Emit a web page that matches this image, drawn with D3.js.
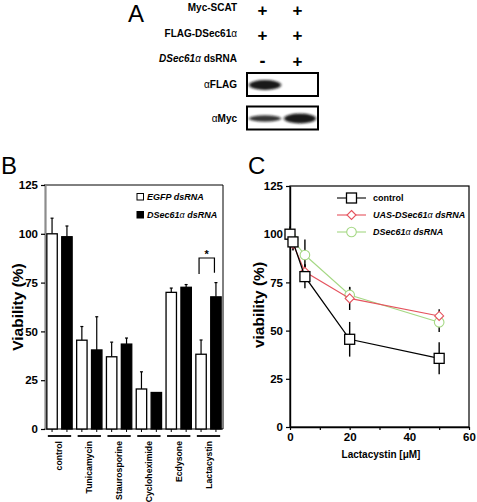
<!DOCTYPE html>
<html><head><meta charset="utf-8">
<script src="https://cdn.jsdelivr.net/npm/d3@7"></script>
<style>
body{margin:0;background:#fff}
svg{display:block}
text{font-family:"Liberation Sans",Arial,Helvetica,sans-serif}
</style>
</head><body>
<svg id="fig" width="477" height="502"></svg>
<script>
// ---------- Panel A data ----------
const aLabels = ["Myc-SCAT", "FLAG-DSec61α", "DSec61α dsRNA"];
const aLane1 = ["+", "+", "-"];
const aLane2 = ["+", "+", "+"];
const blotLabels = ["αFLAG", "αMyc"];
const blotLane1 = [1.0, 0.7];   // relative band intensity
const blotLane2 = [0.0, 1.0];

// ---------- Panel B data ----------
const treatments = ["control", "Tunicamycin", "Staurosporine", "Cycloheximide", "Ecdysone", "Lactacystin"];
const seriesB = ["EGFP dsRNA", "DSec61α dsRNA"];
const egfpVals = [100, 45.5, 37, 20.5, 70, 38.3];
const egfpErr  = [8, 7, 7.5, 8.8, 2.2, 7.3];
const dsecVals = [98.5, 40.5, 43.5, 18.7, 72.6, 67.7];
const dsecErr  = [5.5, 17, 3.1, 0, 1.4, 7.3];
const yTicksB = [0, 25, 50, 75, 100, 125];

// ---------- Panel C data ----------
const lactacystin = [0, 1, 5, 20, 50];
const ctrlVals = [100, 96, 78, 45.5, 35.6];
const ctrlErr  = [4, 4.5, 6, 9, 8.3];
const uasVals  = [100, 95, 80.5, 66.7, 57.6];
const uasErr   = [0, 3, 4, 6, 3.5];
const dsVals   = [100, 97, 89.2, 68.5, 54.3];
const dsErr    = [0, 3, 8, 4, 5];
const yTicksC = [0, 25, 50, 75, 100, 125];
const xTicksC = [0, 10, 20, 30, 40, 50, 60];
const xLabelsC = [0, 20, 40, 60];

const svg = d3.select("#fig");
const RED = "#e5535e", GREEN = "#a5d884";

// =============== PANEL A ===============
const A = svg.append("g");
A.append("text").attr("x", 128).attr("y", 22).attr("font-size", 24).text("A");
const rowY = d3.scalePoint().domain(aLabels).range([11, 62]);
const laneX = d3.scalePoint().domain([0, 1]).range([262.5, 297.5]);
aLabels.forEach((lab, i) => {
  const t = A.append("text").attr("x", 237).attr("y", rowY(lab)).attr("text-anchor", "end")
    .attr("font-size", 10).attr("font-weight", "bold");
  if (i === 0) t.text(lab);
  else if (i === 1) { t.append("tspan").text("FLAG-DSec61"); t.append("tspan").attr("font-weight", "normal").text("α"); }
  else { t.append("tspan").attr("font-style", "italic").text("DSec61"); t.append("tspan").attr("font-style", "italic").attr("font-weight", "normal").text("α");
         t.append("tspan").text(" dsRNA"); }
  [aLane1[i], aLane2[i]].forEach((s, j) => {
    A.append("text").attr("x", laneX(j)).attr("y", rowY(lab) + 4.5).attr("text-anchor", "middle")
      .attr("font-size", s === "+" ? 17 : 18).attr("font-weight", "bold").text(s);
  });
});
// blots
const defs = svg.append("defs");
defs.append("filter").attr("id", "blur").attr("x", "-50%").attr("y", "-100%").attr("width", "200%").attr("height", "300%")
  .append("feGaussianBlur").attr("stdDeviation", "1.8 1.1");
const blotY = d3.scalePoint().domain(blotLabels).range([84, 117.5]);
blotLabels.forEach((lab, i) => {
  const cy = blotY(lab);
  A.append("text").attr("x", 237).attr("y", cy + 4).attr("text-anchor", "end")
    .attr("font-size", 10).attr("font-weight", "bold")
    .call(t => { t.append("tspan").attr("font-weight", "normal").text("α"); t.append("tspan").text(lab.slice(1)); });
  const clipId = "clip" + i;
  defs.append("clipPath").attr("id", clipId).append("rect").attr("x", 247).attr("y", cy - 11).attr("width", 71).attr("height", 22);
  const g = A.append("g").attr("clip-path", `url(#${clipId})`);
  [blotLane1[i], blotLane2[i]].forEach((v, j) => {
    if (v <= 0) return;
    g.append("ellipse").attr("cx", laneX(j) + 2.5).attr("cy", cy + 1)
      .attr("rx", 16).attr("ry", 1.5 + 3.5 * v * (i === 0 ? 1.0 : v))
      .attr("fill", "#111").attr("opacity", 0.55 + 0.4 * v).attr("filter", "url(#blur)");
  });
  A.append("rect").attr("x", 247).attr("y", cy - 11).attr("width", 71).attr("height", 23)
    .attr("fill", "none").attr("stroke", "#000").attr("stroke-width", 2);
});

// =============== PANEL B ===============
const B = svg.append("g");
B.append("text").attr("x", 1).attr("y", 174).attr("font-size", 24).text("B");
const yB = d3.scaleLinear().domain([0, 125]).range([429, 185]);
const xB = d3.scaleBand().domain(treatments).range([45, 223]).paddingInner(0.151).paddingOuter(0.062);
const xSub = d3.scaleBand().domain(seriesB).range([0, xB.bandwidth()]).paddingInner(0.3);
// frame
B.append("line").attr("x1", 44).attr("x2", 223).attr("y1", 185).attr("y2", 185).attr("stroke", "#000").attr("stroke-width", 1);
B.append("line").attr("x1", 223).attr("x2", 223).attr("y1", 185).attr("y2", 429).attr("stroke", "#000").attr("stroke-width", 1);
B.append("line").attr("x1", 44).attr("x2", 223).attr("y1", 429).attr("y2", 429).attr("stroke", "#000").attr("stroke-width", 1.2);
// y axis
const axB = B.append("g").attr("transform", "translate(45,0)")
  .call(d3.axisLeft(yB).tickValues(yTicksB).tickSize(4).tickPadding(3).tickSizeOuter(0));
axB.select(".domain").attr("stroke", "#8c8c8c").attr("stroke-width", 2.2);
axB.selectAll(".tick line").attr("stroke", "#000").attr("stroke-width", 1.2);
axB.selectAll(".tick text").attr("font-family", "DejaVu Sans").attr("font-weight", "bold").attr("font-size", 11.5).attr("fill", "#000");
B.append("text").attr("transform", "translate(23,307) rotate(-90)").attr("text-anchor", "middle")
  .attr("font-size", 15.5).attr("font-weight", "bold").text("Viability (%)");
// bars
const seriesData = [
  {name: seriesB[0], vals: egfpVals, errs: egfpErr, fill: "#fff"},
  {name: seriesB[1], vals: dsecVals, errs: dsecErr, fill: "#000"}
];
seriesData.forEach(s => {
  treatments.forEach((t, i) => {
    const x0 = xB(t) + xSub(s.name), w = xSub.bandwidth(), cx = x0 + w / 2;
    if (s.errs[i] > 0) {
      B.append("line").attr("x1", cx).attr("x2", cx).attr("y1", yB(s.vals[i])).attr("y2", yB(s.vals[i] + s.errs[i])).attr("stroke", "#000").attr("stroke-width", 1.2);
      B.append("line").attr("x1", cx - 1.5).attr("x2", cx + 1.5).attr("y1", yB(s.vals[i] + s.errs[i])).attr("y2", yB(s.vals[i] + s.errs[i])).attr("stroke", "#000").attr("stroke-width", 1.2);
    }
    B.append("rect").attr("x", x0).attr("y", yB(s.vals[i])).attr("width", w).attr("height", yB(0) - yB(s.vals[i]))
      .attr("fill", s.fill).attr("stroke", "#000").attr("stroke-width", 1.3);
    B.append("line").attr("x1", cx).attr("x2", cx).attr("y1", 429).attr("y2", 432).attr("stroke", "#000").attr("stroke-width", 1);
  });
});
// group underlines and labels
treatments.forEach(t => {
  B.append("line").attr("x1", xB(t) + 1).attr("x2", xB(t) + xB.bandwidth() - 1).attr("y1", 436).attr("y2", 436).attr("stroke", "#000").attr("stroke-width", 1.8);
  B.append("text").attr("transform", `translate(${xB(t) + xB.bandwidth() / 2 + 3},441) rotate(-90)`)
    .attr("text-anchor", "end").attr("font-size", 8.7).attr("font-weight", "bold").text(t);
});
// significance bracket on Lactacystin
const lac = treatments[5];
const bxL = xB(lac) + xSub(seriesB[0]) + xSub.bandwidth() / 2 - 2, bxR = xB(lac) + xSub(seriesB[1]) + xSub.bandwidth() / 2 - 1.5;
B.append("path").attr("d", `M${bxL},${yB(79.4)}V${yB(87.6)}H${bxR}V${yB(80)}`).attr("fill", "none").attr("stroke", "#000").attr("stroke-width", 1.2);
B.append("text").attr("x", (bxL + bxR) / 2).attr("y", yB(87.6) - 0.5).attr("text-anchor", "middle").attr("font-size", 11).attr("font-weight", "bold").text("*");
// legend
const legB = B.append("g");
seriesData.forEach((s, i) => {
  const y = 200 + i * 18;
  legB.append("rect").attr("x", 137).attr("y", y - 6.5).attr("width", 6.5).attr("height", 6.5).attr("fill", s.fill).attr("stroke", "#000").attr("stroke-width", 1);
  const t = legB.append("text").attr("x", 147).attr("y", y).attr("font-size", 9).attr("font-weight", "bold").attr("font-style", "italic");
  if (i === 0) t.text(s.name);
  else { t.append("tspan").text("DSec61"); t.append("tspan").attr("font-weight", "normal").text("α"); t.append("tspan").text(" dsRNA"); }
});

// =============== PANEL C ===============
const C = svg.append("g");
C.append("text").attr("x", 248).attr("y", 174).attr("font-size", 24).text("C");
const xC = d3.scaleLinear().domain([0, 60]).range([290, 469]);
const yC = d3.scaleLinear().domain([0, 125]).range([427, 186]);
C.append("rect").attr("x", 290).attr("y", 186).attr("width", 179).attr("height", 241).attr("fill", "none").attr("stroke", "#000").attr("stroke-width", 1.2);
const axCy = C.append("g").attr("transform", "translate(290,0)")
  .call(d3.axisLeft(yC).tickValues(yTicksC).tickSize(4).tickPadding(3).tickSizeOuter(0));
const axCx = C.append("g").attr("transform", "translate(0,427)")
  .call(d3.axisBottom(xC).tickValues(xTicksC).tickSize(3).tickPadding(3).tickSizeOuter(0)
    .tickFormat(d => xLabelsC.includes(d) ? d : ""));
[axCy, axCx].forEach(a => {
  a.select(".domain").attr("stroke", "#000").attr("stroke-width", 1.4);
  a.selectAll(".tick line").attr("stroke", "#000").attr("stroke-width", 1.2);
  a.selectAll(".tick text").attr("font-family", "DejaVu Sans").attr("font-weight", "bold").attr("font-size", 11.5).attr("fill", "#000");
});
C.append("text").attr("transform", "translate(264,305) rotate(-90)").attr("text-anchor", "middle")
  .attr("font-size", 15.5).attr("font-weight", "bold").text("viability (%)");
C.append("text").attr("x", 381).attr("y", 458).attr("text-anchor", "middle").attr("font-size", 10).attr("font-weight", "bold")
  .text("Lactacystin [μM]");

const seriesC = [
  {name: "DSec61α dsRNA", vals: dsVals, errs: dsErr, color: GREEN, shape: "circle"},
  {name: "UAS-DSec61α dsRNA", vals: uasVals, errs: uasErr, color: RED, shape: "diamond"},
  {name: "control", vals: ctrlVals, errs: ctrlErr, color: "#000", shape: "square"}
];
function marker(g, shape, x, y, color) {
  if (shape === "square") g.append("rect").attr("x", x - 5).attr("y", y - 5).attr("width", 10).attr("height", 10).attr("fill", "#fff").attr("stroke", color).attr("stroke-width", 1.3);
  else if (shape === "diamond") g.append("path").attr("d", `M${x},${y - 4.5}L${x + 4.5},${y}L${x},${y + 4.5}L${x - 4.5},${y}Z`).attr("fill", "#fff").attr("stroke", color).attr("stroke-width", 1.1);
  else g.append("circle").attr("cx", x).attr("cy", y).attr("r", 4.8).attr("fill", "#fff").attr("stroke", color).attr("stroke-width", 1.1);
}
// error bars
seriesC.forEach(s => {
  lactacystin.forEach((c, i) => {
    if (s.errs[i] > 0) C.append("line").attr("x1", xC(c)).attr("x2", xC(c)).attr("y1", yC(s.vals[i] - s.errs[i])).attr("y2", yC(s.vals[i] + s.errs[i])).attr("stroke", "#000").attr("stroke-width", 1.4);
  });
});
const lineGen = d3.line().x((d, i) => xC(lactacystin[i])).y(d => yC(d));
seriesC.forEach(s => {
  C.append("path").attr("d", lineGen(s.vals)).attr("fill", "none").attr("stroke", s.color).attr("stroke-width", s.shape === "square" ? 1.3 : 1.1);
  lactacystin.forEach((c, i) => marker(C, s.shape, xC(c), yC(s.vals[i]), s.color));
});
// legend
const legOrder = [seriesC[2], seriesC[1], seriesC[0]];
legOrder.forEach((s, i) => {
  const y = 198 + i * 17;
  C.append("line").attr("x1", 337).attr("x2", 366).attr("y1", y).attr("y2", y).attr("stroke", s.color).attr("stroke-width", 1.1);
  marker(C, s.shape, 351.5, y, s.color);
  const t = C.append("text").attr("x", 373).attr("y", y + 3).attr("font-size", 9).attr("font-weight", "bold");
  if (i === 0) t.text(s.name);
  else {
    t.attr("font-style", "italic");
    const parts = s.name.split("α");
    t.append("tspan").text(parts[0]); t.append("tspan").attr("font-weight", "normal").text("α"); t.append("tspan").text(parts[1]);
  }
});
</script>
</body></html>
